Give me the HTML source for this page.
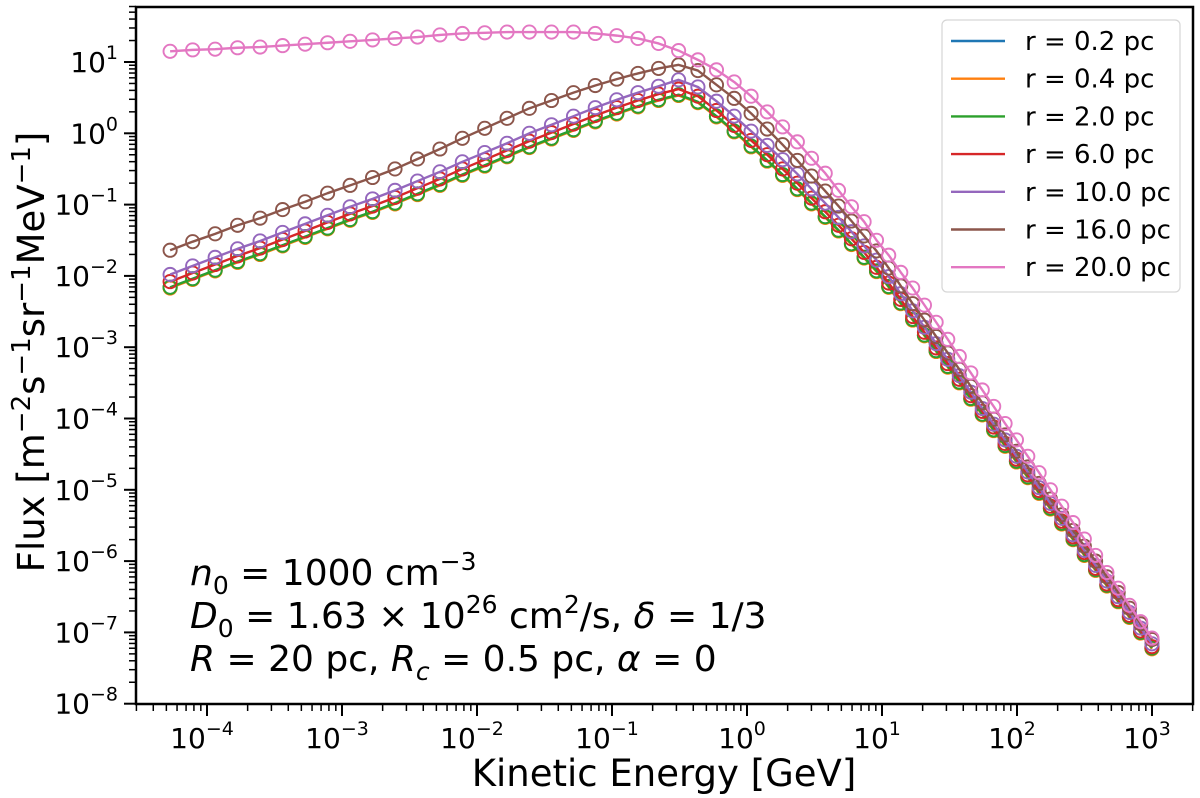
<!DOCTYPE html>
<html><head><meta charset="utf-8">
<style>
html,body{margin:0;padding:0;background:#fff;}
svg{display:block;font-family:"DejaVu Sans","Liberation Sans",sans-serif;}
</style></head>
<body>
<svg id="chart" width="1200" height="798" viewBox="0 0 1200 798" xmlns="http://www.w3.org/2000/svg">
  <rect x="0" y="0" width="1200" height="798" fill="#fff"/>
  <g id="series"></g>
  <rect x="136" y="7" width="1057" height="697" fill="none" stroke="#000" stroke-width="2.5"/>
  <g id="xticks"></g>
  <g id="yticks"></g>
  <text x="664" y="786" font-size="37" text-anchor="middle">Kinetic Energy [GeV]</text>
  <text transform="translate(44,352) rotate(-90)" font-size="37" text-anchor="middle">Flux [m<tspan dy="-14" font-size="26">−2</tspan><tspan dy="14">s</tspan><tspan dy="-14" font-size="26">−1</tspan><tspan dy="14">sr</tspan><tspan dy="-14" font-size="26">−1</tspan><tspan dy="14">MeV</tspan><tspan dy="-14" font-size="26">−1</tspan><tspan dy="14">]</tspan></text>
  <g font-size="36">
    <text x="190" y="585"><tspan font-style="italic">n</tspan><tspan dy="9" font-size="25">0</tspan><tspan dy="-9"> = 1000 cm</tspan><tspan dy="-15" font-size="25">−3</tspan></text>
    <text x="190" y="628"><tspan font-style="italic">D</tspan><tspan dy="9" font-size="25">0</tspan><tspan dy="-9"> = 1.63 × 10</tspan><tspan dy="-15" font-size="25">26</tspan><tspan dy="15"> cm</tspan><tspan dy="-15" font-size="25">2</tspan><tspan dy="15">/s, </tspan><tspan font-style="italic">δ</tspan><tspan> = 1/3</tspan></text>
    <text x="190" y="671"><tspan font-style="italic">R</tspan><tspan> = 20 pc, </tspan><tspan font-style="italic">R</tspan><tspan dy="9" font-size="25" font-style="italic">c</tspan><tspan dy="-9"> = 0.5 pc, </tspan><tspan font-style="italic">α</tspan><tspan> = 0</tspan></text>
  </g>
  <g id="legend">
    <rect x="942" y="20" width="238" height="272" rx="5" fill="#fff" fill-opacity="0.85" stroke="#d6d6d6" stroke-width="1.2"/>
  </g>
</svg>
<script>
const energyGeV = [5.33e-5,7.83e-5,1.149e-4,1.685e-4,2.473e-4,3.631e-4,5.33e-4,7.82e-4,1.148e-3,1.684e-3,2.47e-3,3.625e-3,5.314e-3,7.79e-3,0.01141,0.0167,0.02442,0.03563,0.05186,0.0752,0.1085,0.1556,0.2213,0.3114,0.433,0.5941,0.8038,1.0724,1.4116,1.8354,2.3603,3.0061,3.7972,4.7629,5.9389,7.3689,9.1057,11.213,13.77,16.87,20.626,25.181,30.699,37.385,45.487,55.304,67.198,81.607,99.066,120.21,145.84,176.89,214.5,260.08,315.29,382.18,463.22,561.4,680.35,824.46,999.06];
const seriesLabels = ["r = 0.2 pc","r = 0.4 pc","r = 2.0 pc","r = 6.0 pc","r = 10.0 pc","r = 16.0 pc","r = 20.0 pc"];
// log10 of flux [m^-2 s^-1 sr^-1 MeV^-1]
const logFlux_r02 = [-2.16,-2.04,-1.92,-1.80,-1.69,-1.57,-1.45,-1.33,-1.21,-1.10,-0.98,-0.85,-0.72,-0.58,-0.45,-0.32,-0.19,-0.07,0.05,0.17,0.28,0.38,0.47,0.54,0.44,0.24,0.03,-0.18,-0.38,-0.58,-0.78,-0.98,-1.17,-1.36,-1.55,-1.74,-1.93,-2.15,-2.38,-2.61,-2.83,-3.05,-3.27,-3.49,-3.72,-3.94,-4.16,-4.38,-4.60,-4.82,-5.04,-5.26,-5.47,-5.69,-5.91,-6.12,-6.34,-6.56,-6.78,-7.00,-7.22];
const logFlux_r04 = [-2.17,-2.05,-1.93,-1.81,-1.70,-1.58,-1.46,-1.34,-1.22,-1.11,-0.99,-0.86,-0.73,-0.59,-0.46,-0.33,-0.20,-0.08,0.04,0.16,0.27,0.37,0.46,0.53,0.43,0.23,0.02,-0.19,-0.39,-0.59,-0.79,-0.99,-1.18,-1.37,-1.56,-1.75,-1.94,-2.16,-2.39,-2.62,-2.84,-3.06,-3.28,-3.50,-3.73,-3.95,-4.17,-4.39,-4.61,-4.83,-5.05,-5.27,-5.48,-5.70,-5.92,-6.13,-6.35,-6.57,-6.79,-7.01,-7.23];
const logFlux_r2 = [-2.16,-2.04,-1.92,-1.80,-1.69,-1.57,-1.45,-1.33,-1.21,-1.10,-0.98,-0.85,-0.72,-0.58,-0.45,-0.32,-0.19,-0.07,0.05,0.17,0.28,0.38,0.47,0.54,0.44,0.24,0.03,-0.18,-0.38,-0.58,-0.78,-0.98,-1.17,-1.36,-1.55,-1.74,-1.93,-2.15,-2.38,-2.61,-2.83,-3.05,-3.27,-3.49,-3.72,-3.94,-4.16,-4.38,-4.60,-4.82,-5.04,-5.26,-5.47,-5.69,-5.91,-6.12,-6.34,-6.56,-6.78,-7.00,-7.22];
const logFlux_r6 = [-2.08,-1.96,-1.84,-1.72,-1.61,-1.49,-1.37,-1.25,-1.13,-1.02,-0.90,-0.77,-0.64,-0.50,-0.37,-0.24,-0.11,0.01,0.13,0.25,0.36,0.46,0.55,0.62,0.52,0.32,0.11,-0.10,-0.30,-0.50,-0.70,-0.91,-1.10,-1.29,-1.48,-1.67,-1.88,-2.10,-2.33,-2.57,-2.79,-3.01,-3.23,-3.45,-3.68,-3.90,-4.12,-4.35,-4.57,-4.79,-5.01,-5.23,-5.44,-5.66,-5.88,-6.10,-6.32,-6.54,-6.76,-6.98,-7.20];
const logFlux_r10 = [-1.98,-1.86,-1.74,-1.62,-1.51,-1.39,-1.27,-1.15,-1.03,-0.92,-0.80,-0.67,-0.54,-0.40,-0.27,-0.14,0.00,0.12,0.24,0.36,0.47,0.57,0.66,0.75,0.65,0.45,0.24,0.03,-0.17,-0.37,-0.57,-0.78,-0.98,-1.18,-1.38,-1.58,-1.78,-2.01,-2.25,-2.49,-2.72,-2.95,-3.17,-3.40,-3.63,-3.86,-4.08,-4.30,-4.53,-4.75,-4.97,-5.19,-5.40,-5.63,-5.85,-6.06,-6.28,-6.50,-6.72,-6.94,-7.16];
const logFlux_r16 = [-1.64,-1.52,-1.41,-1.29,-1.19,-1.07,-0.96,-0.84,-0.73,-0.62,-0.50,-0.36,-0.22,-0.07,0.07,0.21,0.35,0.46,0.57,0.67,0.76,0.84,0.91,0.96,0.88,0.68,0.49,0.28,0.06,-0.16,-0.38,-0.60,-0.81,-1.02,-1.23,-1.44,-1.65,-1.89,-2.14,-2.39,-2.62,-2.85,-3.08,-3.31,-3.55,-3.78,-4.01,-4.23,-4.46,-4.68,-4.91,-5.13,-5.35,-5.57,-5.79,-6.00,-6.22,-6.44,-6.66,-6.88,-7.10];
const logFlux_r20 = [1.15,1.17,1.18,1.20,1.21,1.23,1.25,1.27,1.29,1.31,1.33,1.35,1.38,1.40,1.41,1.42,1.42,1.42,1.42,1.40,1.37,1.33,1.26,1.16,1.03,0.89,0.72,0.52,0.30,0.09,-0.12,-0.35,-0.56,-0.80,-1.03,-1.24,-1.50,-1.71,-1.95,-2.17,-2.41,-2.65,-2.89,-3.13,-3.36,-3.60,-3.83,-4.07,-4.30,-4.53,-4.76,-5.00,-5.23,-5.46,-5.69,-5.92,-6.16,-6.38,-6.62,-6.85,-7.08];
const xTickExps = [-4,-3,-2,-1,0,1,2,3];
const yTickExps = [1,0,-1,-2,-3,-4,-5,-6,-7,-8];

const NS = "http://www.w3.org/2000/svg";
const colors = ["#1f77b4","#ff7f0e","#2ca02c","#d62728","#9467bd","#8c564b","#e377c2"];
const allSeries = [logFlux_r02,logFlux_r04,logFlux_r2,logFlux_r6,logFlux_r10,logFlux_r16,logFlux_r20];
const seriesNames = ["series-r-0-2","series-r-0-4","series-r-2","series-r-6","series-r-10","series-r-16","series-r-20"];
function xPos(e){ return 207 + (Math.log10(e) + 4) * 135; }
function xPosLog(l){ return 207 + (l + 4) * 135; }
function yPos(l){ return 62 + (1 - l) * 71.3; }
function mk(tag, attrs){ const el = document.createElementNS(NS, tag); for (const k in attrs) el.setAttribute(k, attrs[k]); return el; }

const sl = document.getElementById("series");
allSeries.forEach((vals, si) => {
  const g = mk("g", {});
  
  
  const pts = vals.map((v, i) => xPos(energyGeV[i]).toFixed(2) + "," + yPos(v).toFixed(2)).join(" ");
  const line = mk("polyline", {points: pts, fill: "none", stroke: colors[si], "stroke-width": 2.4, "stroke-linejoin": "round"});
  
  
  g.appendChild(line);
  vals.forEach((v, i) => {
    const c = mk("circle", {cx: xPos(energyGeV[i]).toFixed(2), cy: yPos(v).toFixed(2), r: 6.6, fill: "none", stroke: colors[si], "stroke-width": 1.9});
    
    
    g.appendChild(c);
  });
  sl.appendChild(g);
});

// x ticks
const xt = document.getElementById("xticks");
for (let d = -5; d <= 3; d++) {
  for (let m = 1; m <= 9; m++) {
    const l = d + Math.log10(m);
    const x = xPosLog(l);
    if (x < 136 || x > 1194) continue;
    const major = m === 1;
    const t = mk("line", {x1: x, x2: x, y1: 704, y2: 704 + (major ? 12 : 7), stroke: "#000", "stroke-width": major ? 2 : 1.5});
    
    
    xt.appendChild(t);
  }
}
xTickExps.forEach(e => {
  const x = xPosLog(e);
  const t = mk("text", {x: x - 5, y: 748, "font-size": 28, "text-anchor": "middle"});
  
  
  t.innerHTML = '10<tspan dy="-13" font-size="19">' + (e < 0 ? '−' + (-e) : e) + '</tspan>';
  xt.appendChild(t);
});
// y ticks
const yt = document.getElementById("yticks");
for (let d = -8; d <= 1; d++) {
  for (let m = 1; m <= 9; m++) {
    const l = d + Math.log10(m);
    const y = yPos(l);
    if (y < 6 || y > 705) continue;
    const major = m === 1;
    const t = mk("line", {x1: 136 - (major ? 12 : 7), x2: 136, y1: y, y2: y, stroke: "#000", "stroke-width": major ? 2 : 1.5});
    
    
    yt.appendChild(t);
  }
}
yTickExps.forEach(e => {
  const y = yPos(e);
  const t = mk("text", {x: 118, y: y + 10, "font-size": 28, "text-anchor": "end"});
  
  
  t.innerHTML = '10<tspan dy="-13" font-size="19">' + (e < 0 ? '−' + (-e) : e) + '</tspan>';
  yt.appendChild(t);
});
// legend
const lg = document.getElementById("legend");
seriesLabels.forEach((lab, i) => {
  const y = 41 + i * 37.7;
  const ln = mk("line", {x1: 951, x2: 1005, y1: y, y2: y, stroke: colors[i], "stroke-width": 2.4});
  
  
  lg.appendChild(ln);
  const tx = mk("text", {x: 1025, y: y + 9, "font-size": 26});
  
  
  tx.textContent = lab;
  lg.appendChild(tx);
});
</script>
</body></html>
